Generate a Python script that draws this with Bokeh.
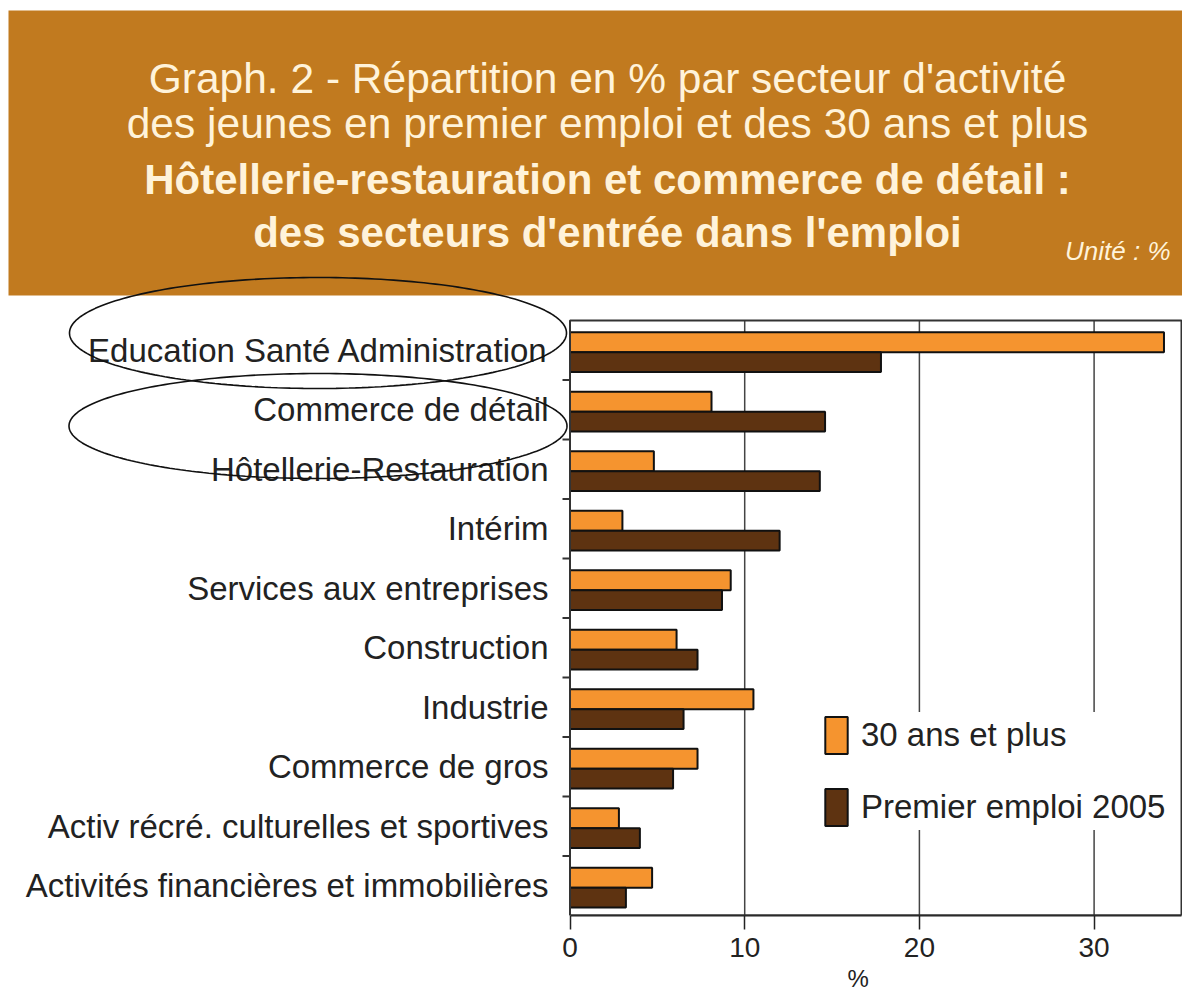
import numpy as np
from bokeh.plotting import figure
from bokeh.models import (ColumnDataSource, Range1d, FixedTicker, Legend, LegendItem,
                          Label, Title, BoxAnnotation, PolyAnnotation)
from bokeh.core.properties import value
from bokeh.transform import dodge
from bokeh.embed import file_html
from bokeh.resources import INLINE

# ---------------- data ----------------
categories = [
    "Education Santé Administration",
    "Commerce de détail",
    "Hôtellerie-Restauration",
    "Intérim",
    "Services aux entreprises",
    "Construction",
    "Industrie",
    "Commerce de gros",
    "Activ récré. culturelles et sportives",
    "Activités financières et immobilières",
]
trente_ans_et_plus = [34.0, 8.1, 4.8, 3.0, 9.2, 6.1, 10.5, 7.3, 2.8, 4.7]
premier_emploi_2005 = [17.8, 14.6, 14.3, 12.0, 8.7, 7.3, 6.5, 5.9, 4.0, 3.2]
series_labels = ["30 ans et plus", "Premier emploi 2005"]
x_ticks = [0, 10, 20, 30]
grid_ticks = [10, 20, 30]
title_lines = [
    "Graph. 2 - Répartition en % par secteur d'activité",
    "des jeunes en premier emploi et des 30 ans et plus",
    "Hôtellerie-restauration et commerce de détail :",
    "des secteurs d'entrée dans l'emploi",
]
unit_text = "Unité : %"
x_axis_label = "%"

# ---------------- layout / style ----------------
W, H = 1182, 1004
FONT = "Liberation Sans"
ORANGE = "#F5942F"
BROWN = "#5E3311"
BANNER = "#C17A1F"
CREAM = "#FFF3DA"
TEXT = "#222222"

PXX = 17.47          # pixels per % on the value axis
PXY = 59.5           # pixels per category band
ZERO_X = 569.5       # canvas x of value 0
CHART_TOP = 320      # canvas y of chart top
CHART_BOTTOM = 915   # canvas y of chart bottom
CHART_RIGHT = 1181   # canvas x of chart right edge
n = len(categories)

x_start = -ZERO_X / PXX
x_stop = x_start + W / PXX
y_stop = n + CHART_TOP / PXY


def X(px):  # canvas px -> data x
    return x_start + px / PXX


def Y(py):  # canvas px (from top) -> data y
    return y_stop - py / PXY


x_chart_end = X(CHART_RIGHT)
ypos = [n - 0.5 - i for i in range(n)]
boundaries = [float(k) for k in range(1, n)]

p = figure(width=W, height=H, title=None,
           x_range=Range1d(x_start, x_stop), y_range=Range1d(0, y_stop),
           y_axis_location=None,
           output_backend="svg", toolbar_location=None,
           min_border_left=0, min_border_right=0, min_border_top=0,
           min_border_bottom=H - CHART_BOTTOM)
p.background_fill_color = "white"
p.border_fill_color = "white"
p.outline_line_color = None
p.grid.visible = False

# banner + title
p.add_layout(BoxAnnotation(left=X(8), top=Y(10), bottom=Y(295), fill_color=BANNER,
                           fill_alpha=1, line_alpha=0))
baselines = [78, 123, 179, 232]
styles = ["normal", "normal", "bold", "bold"]
sizes = ["42.5px", "42.5px", "42px", "42px"]
for txt, yb, st, fs in zip(title_lines, baselines, styles, sizes):
    p.add_layout(Label(x=X(607), y=Y(yb), text=txt, text_align="center",
                       text_baseline="alphabetic", text_font=FONT,
                       text_font_size=fs, text_font_style=st, text_color=CREAM))
p.add_layout(Label(x=X(1170), y=Y(250), text=unit_text, text_align="right",
                   text_baseline="alphabetic", text_font=FONT, text_font_size="26px",
                   text_font_style="italic", text_color=CREAM))

# grid lines inside the chart area
p.segment(x0=grid_ticks, y0=[0] * len(grid_ticks), x1=grid_ticks, y1=[n] * len(grid_ticks),
          line_color="#444444", line_width=1.5)
# small ticks between categories on the left edge
p.segment(x0=[X(562)] * len(boundaries), x1=[0] * len(boundaries),
          y0=boundaries, y1=boundaries, line_color="#333333", line_width=2)

# bars
src = ColumnDataSource(dict(y=ypos, cat=categories, a=trente_ans_et_plus, b=premier_emploi_2005))
r1 = p.hbar(y=dodge("y", 0.135), left=0, right="a", height=0.335, source=src,
            fill_color=ORANGE, line_color="#111111", line_width=2)
r2 = p.hbar(y=dodge("y", -0.2), left=0, right="b", height=0.335, source=src,
            fill_color=BROWN, line_color="#111111", line_width=2)

# category labels
p.text(x=0, y="y", text="cat", source=src, x_offset=-21.5, text_align="right",
       text_baseline="middle", text_font=value(FONT), text_font_size="33px",
       text_color=TEXT)

# x axis
ax = p.xaxis[0]
ax.ticker = FixedTicker(ticks=x_ticks)
ax.bounds = (0, x_chart_end)
ax.major_tick_out = 14
ax.major_tick_in = 0
ax.major_tick_line_color = "#222222"
ax.major_tick_line_width = 1.5
ax.minor_tick_line_color = None
ax.axis_line_color = "#222222"
ax.axis_line_width = 2
ax.major_label_text_font = FONT
ax.major_label_text_font_size = "28px"
ax.major_label_text_color = TEXT
ax.major_label_standoff = 8

# unit label of the x axis, below the tick labels
p.add_layout(Title(text=x_axis_label, align="left", offset=847, standoff=6,
                   text_font=FONT, text_font_size="24px", text_font_style="normal",
                   text_color=TEXT), "below")

# legend
legend = Legend(items=[LegendItem(label=series_labels[0], renderers=[r1]),
                       LegendItem(label=series_labels[1], renderers=[r2])],
                location=(822, 85), glyph_width=28, glyph_height=46, spacing=26,
                padding=18, margin=0, label_standoff=11,
                label_text_font=FONT, label_text_font_size="33px",
                label_text_color=TEXT, border_line_color=None,
                background_fill_color="white", background_fill_alpha=1)
p.add_layout(legend)

# chart frame
p.add_layout(BoxAnnotation(left=0, right=x_chart_end, bottom=0, top=n, fill_alpha=0,
                           line_color="#333333", line_alpha=1, line_width=2))

# hand-drawn highlight ellipses around the two entry sectors
t = np.linspace(0, 2 * np.pi, 240)
for (cx, cy, a, b) in [(317.5, 332.5, 248.5, 55.5), (317.5, 425.5, 249, 52.5)]:
    p.add_layout(PolyAnnotation(xs=[X(v) for v in cx + a * np.cos(t)],
                                ys=[Y(v) for v in cy + b * np.sin(t)],
                                fill_alpha=0, line_color="#111111", line_alpha=1,
                                line_width=1.6))

open("out.html", "w").write(file_html(p, INLINE))
